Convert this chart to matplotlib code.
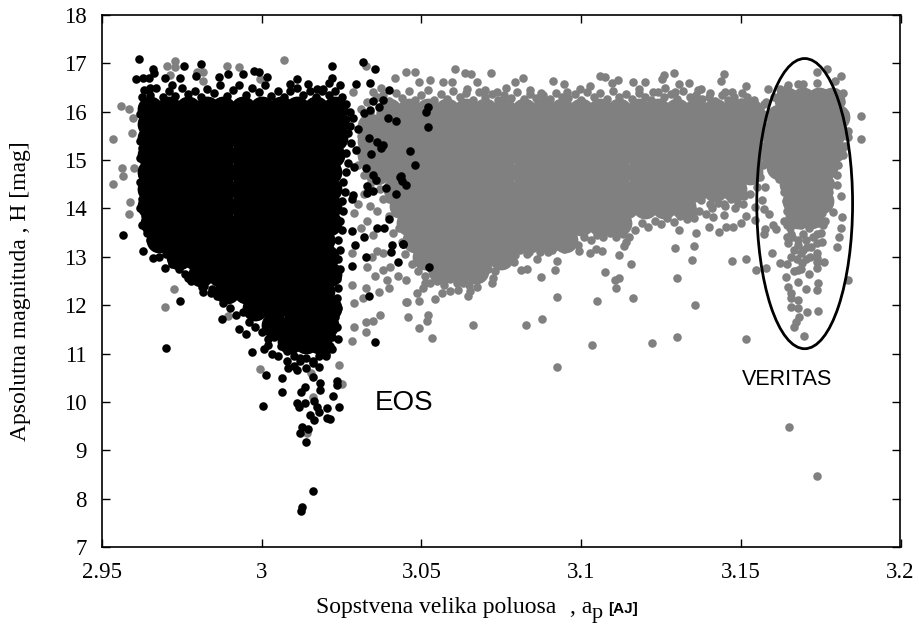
import matplotlib
matplotlib.use("Agg")
import matplotlib.pyplot as plt
from matplotlib.patches import Ellipse

GREY = "#808080"
xticks = [2.95, 3.0, 3.05, 3.1, 3.15, 3.2]
xtick_labels = ["2.95", "3", "3.05", "3.1", "3.15", "3.2"]
yticks = [7, 8, 9, 10, 11, 12, 13, 14, 15, 16, 17, 18]

# The cloud holds thousands of overlapping asteroids. Where single dots cannot be told
# apart, the filled area is read off the picture as rows of wider dots (magnitude, [axis]).
grey_core = [
 (16.02, [3.040,3.046,3.052,3.058,3.064,3.070,3.076,3.082,3.088,3.094,3.100,3.106,3.112,3.118,3.124,3.130,3.136,3.142,3.148,3.153]),
 (15.70, [3.034,3.040,3.046,3.052,3.058,3.064,3.070,3.076,3.082,3.088,3.094,3.100,3.106,3.112,3.118,3.124,3.130,3.136,3.142,3.148,3.153]),
 (15.40, [3.034,3.040,3.046,3.052,3.058,3.064,3.070,3.076,3.082,3.088,3.094,3.100,3.106,3.112,3.118,3.124,3.130,3.136,3.142,3.148,3.153]),
 (15.10, [3.034,3.040,3.046,3.052,3.058,3.064,3.070,3.076,3.082,3.088,3.094,3.100,3.106,3.112,3.118,3.124,3.130,3.136,3.142,3.148,3.153]),
 (14.75, [3.036,3.042,3.046,3.052,3.058,3.064,3.070,3.076,3.082,3.088,3.094,3.100,3.106,3.112,3.118,3.124,3.130,3.136,3.142,3.148,3.153]),
 (14.40, [3.042,3.046,3.052,3.058,3.064,3.070,3.076,3.082,3.088,3.094,3.100,3.106,3.112,3.118,3.124,3.130,3.136,3.142,3.148]),
 (14.05, [3.044,3.048,3.054,3.060,3.066,3.072,3.078,3.084,3.090,3.096,3.102,3.108,3.114,3.120,3.126,3.132]),
 (13.70, [3.046,3.052,3.058,3.064,3.070,3.076,3.082,3.088,3.094,3.100,3.106,3.112]),
 (13.35, [3.048,3.054,3.060,3.066,3.072,3.078,3.084,3.090,3.095]),
 (13.00, [3.051,3.057,3.063,3.069,3.075]),
 (12.70, [3.056,3.062,3.067]),
]
grey_x = [3.0452,3.0481,3.0604,3.0638,3.0656,3.0719,3.0675,3.0819,3.0794,3.0766,3.0494,3.0528,3.0569,3.0597,3.0913,3.0945,3.0998,3.1029,3.106,3.1076,3.1117,3.1098,3.1164,3.1201,3.1258,3.129,3.1254,3.1308,3.1339,3.1367,3.1264,3.1295,3.118,3.1226,3.0873,3.0841,3.0904,3.0957,3.0738,3.07,3.0644,
 3.1374,3.1405,3.1452,3.1474,3.1505,3.154,
 3.0453,3.0494,3.0544,3.0457,3.0522,3.0519,3.0494,3.0532,3.066,3.0826,3.0879,3.0923,3.1049,3.1164,3.0923,3.1035,3.1223,3.1301,3.1358,3.1301,3.1348,3.1354,3.1295,3.1361,3.1308,3.1155,3.1119,3.1135,3.1142,3.1109,3.1106,3.1119,3.1076,3.1064,3.1047,3.1029,3.0994,3.0947,3.0897,3.0926,3.0919,3.0876,3.0863,3.0832,3.0813,3.0794,3.0838,3.0722,3.0725,3.0647,3.0651,3.0616,3.059,3.0565,3.0486,3.0505,3.0512,3.0528,3.0675,3.063,3.0453,
 2.9533,2.956,2.9585,2.9564,2.9567,2.9533,2.9595,2.9598,2.96,2.9589,2.9583,
 3.007,2.9727,2.9705,2.9727,2.989,2.993,2.9815,2.9798,2.9815,2.9714,2.9996,3.0328,3.0416,3.0287,3.0372,
 2.9996,3.0153,3.0243,3.0252,3.0161,3.0142,2.9696,2.9724,2.9896,
 3.0284,3.0325,3.0288,3.0325,3.035,3.0369,3.0288,3.0316,3.0325,3.0366,3.0284,3.0397,3.0455,3.0356,3.0381,3.0393,3.0428,3.0331,3.0284,3.0362,3.0346,3.0381,3.0403,
 3.034,3.036,3.03,3.033,3.04,3.029,3.035,3.031,
 3.1652,3.1739,3.1517,3.1699,3.1665,3.1674,3.1683,3.1708,3.1743,3.1656,3.1678,3.1678,3.1656,3.1656,3.1649,3.1703,3.1739,3.1743,3.1678,3.1643,3.1712,3.1837,3.1549,3.1579,3.1515,3.1471,3.1599,3.1624,3.1645,3.1739,3.1761,
 3.1801,3.1808,3.1814,3.1433,3.1402,3.1455,3.1477,3.15,3.1574,3.1577,3.1611,3.1602,
 3.1678,3.1693,3.1656,3.1687,3.1708,3.1739,3.1739,3.1649,3.168,3.1656,3.1696,3.1739,3.1758,3.1646,3.1687,3.1718,3.1739,
 3.1739,3.1771,3.1814,3.1795,3.1877,3.1877,3.1837,3.1824,3.1821,3.1584,3.1447,3.1437,3.1517,3.1574,3.1739,3.1678,3.1696,3.1649,3.1624,3.1771,
 3.1814,3.1801,3.1789,3.1817,3.1577,3.1567,3.1546,3.1574,3.1589,3.1546,3.1517,3.1483,3.1414,3.1446,3.1405,3.1374,3.1348,3.1355,3.1446,3.1508]
grey_y = [16.82,16.82,16.88,16.8,16.78,16.8,16.62,16.69,16.61,16.5,16.61,16.65,16.61,16.61,16.63,16.57,16.48,16.53,16.73,16.71,16.65,16.59,16.61,16.61,16.75,16.8,16.67,16.57,16.59,16.45,16.49,16.41,16.47,16.41,16.38,16.45,16.27,16.4,16.4,16.44,16.48,
 16.47,16.38,16.41,16.41,16.38,16.24,
 12.07,12.08,12.12,11.75,11.8,11.67,11.53,11.33,11.6,11.58,11.72,12.17,12.09,12.15,10.72,11.18,11.22,11.34,12.0,12.56,12.93,13.22,13.18,13.49,13.55,12.86,13.03,13.22,13.3,12.36,12.52,12.56,12.69,13.12,13.16,13.08,13.12,13.16,13.1,12.91,12.73,12.58,12.95,12.74,12.72,13.03,13.1,12.46,12.56,12.19,12.29,12.31,12.29,12.25,12.25,12.36,12.46,12.46,12.38,12.46,12.52,
 15.43,16.12,16.05,14.83,14.68,14.5,15.56,15.87,14.83,14.13,13.88,
 17.07,17.05,16.94,16.92,16.94,16.92,16.82,16.82,16.63,16.76,16.67,16.94,16.69,16.4,16.5,
 10.68,10.6,10.76,10.37,10.1,9.35,11.96,12.33,11.78,
 11.26,11.44,11.55,11.66,11.68,11.8,12.04,12.15,12.35,12.27,12.41,12.35,12.07,12.6,12.72,12.52,12.6,12.79,13.07,13.13,13.0,13.07,12.79,
 14.05,13.95,14.1,13.75,13.85,13.9,13.45,13.6,
 9.48,8.47,11.3,11.36,11.55,11.66,11.76,11.86,11.88,11.96,11.94,12.1,12.15,12.25,12.38,12.33,12.31,12.46,12.48,12.58,12.64,12.52,12.73,12.76,12.95,12.91,13.07,12.87,12.85,12.76,12.89,
 13.2,13.4,13.6,13.52,13.62,13.62,13.62,13.7,13.47,13.57,13.57,13.65,
 12.73,12.87,13.0,13.07,13.2,13.07,13.28,13.28,13.24,13.48,13.48,13.48,13.65,13.65,13.65,13.0,12.98,
 16.82,16.88,16.73,16.63,15.91,15.43,15.47,15.97,16.38,16.47,16.79,16.63,16.53,16.16,16.6,16.58,16.58,16.55,16.48,16.38,
 14.25,14.48,13.93,13.82,14.45,14.17,14.03,13.99,13.88,13.76,13.85,14.0,13.83,13.86,14.1,14.17,14.0,13.8,14.1,14.1]
grey_edge_top = [(3.040,16.22),(3.042,16.38),(3.044,16.28),(3.046,16.42),(3.048,16.25),(3.050,16.35),(3.052,16.44),(3.054,16.24),(3.056,16.36),(3.058,16.27),(3.060,16.42),(3.062,16.3),(3.064,16.38),(3.066,16.24),(3.068,16.4),(3.070,16.3),(3.072,16.36),(3.074,16.25),(3.076,16.35),(3.078,16.28),(3.080,16.4),(3.082,16.26),(3.084,16.36),(3.086,16.28),(3.088,16.34),(3.090,16.24),(3.092,16.38),(3.094,16.3),(3.096,16.28),(3.098,16.36),(3.100,16.25),(3.102,16.4),(3.104,16.3),(3.106,16.38),(3.108,16.26),(3.110,16.42),(3.112,16.3),(3.114,16.36),(3.116,16.26),(3.118,16.38),(3.120,16.3),(3.122,16.25),(3.124,16.4),(3.126,16.3),(3.128,16.36),(3.130,16.26),(3.132,16.42),(3.134,16.3),(3.136,16.34),(3.138,16.26),(3.140,16.3),(3.142,16.22),(3.144,16.34),(3.146,16.25),(3.148,16.3),(3.150,16.2),(3.152,16.3),(3.154,16.16),(3.156,16.05),(3.157,15.85)]
grey_edge_low = [(3.045,13.05),(3.047,12.85),(3.049,13.1),(3.049,12.7),(3.051,12.6),(3.053,12.75),(3.055,12.5),(3.057,12.42),(3.059,12.55),(3.061,12.45),(3.063,12.6),(3.065,12.42),(3.067,12.55),(3.069,12.6),(3.071,12.75),(3.073,12.7),(3.075,12.85),(3.077,13.0),(3.079,12.9),(3.081,13.15),(3.083,13.05),(3.085,13.2),(3.087,13.1),(3.089,13.22),(3.091,13.15),(3.093,13.25),(3.095,13.2),(3.097,13.3),(3.099,13.25),(3.101,13.4),(3.103,13.35),(3.105,13.45),(3.107,13.4),(3.109,13.5),(3.111,13.42),(3.113,13.48),(3.115,13.4),(3.117,13.55),(3.119,13.7),(3.121,13.62),(3.123,13.75),(3.125,13.68),(3.127,13.8),(3.129,13.72),(3.131,13.85),(3.133,13.78),(3.135,13.9),(3.137,13.95),(3.139,13.88),(3.141,14.0),(3.143,14.12),(3.145,14.05),(3.147,14.2),(3.149,14.12),(3.151,14.25),(3.153,14.3),(3.155,14.45),(3.156,14.65),(3.157,14.9),(3.158,15.1),(3.156,15.3)]
grey_edge_left = [(3.033,16.2),(3.036,16.3),(3.039,16.1),(3.034,16.0),(3.037,15.95),(3.031,16.05),(3.035,16.4),(3.038,16.35),(3.032,15.8),(3.031,15.5),(3.03,15.2),(3.03,14.9),(3.032,14.7),(3.034,14.5),(3.037,14.4),(3.04,14.2),(3.038,14.2),(3.032,14.3),(3.042,13.9),(3.043,13.6),(3.041,13.5),(3.044,13.3)]
veritas_edge = [(3.1605,16.3),(3.1625,16.42),(3.1645,16.5),(3.1795,16.4),(3.1815,16.2),(3.1825,15.95),(3.1815,15.75),(3.1835,15.6),(3.1825,15.3),(3.182,15.1),(3.1805,14.9),(3.18,14.7),(3.178,14.55),(3.1775,14.35),(3.1765,14.1),(3.1755,13.9),(3.1745,13.7),(3.158,16.2),(3.157,15.95),(3.157,15.7),(3.1565,15.5),(3.157,15.2),(3.158,15.0),(3.16,14.8),(3.162,14.6),(3.1635,14.35),(3.164,14.15),(3.1645,13.95),(3.165,13.75)]
veritas_pile = [(3.166,13.4),(3.168,13.35),(3.1705,13.35),(3.1725,13.4),(3.1665,13.15),(3.1695,13.15),(3.172,13.2),(3.1755,13.3),(3.1675,12.95),(3.1705,12.95),(3.1665,12.7),(3.169,12.75),(3.174,12.9),(3.1645,13.4),(3.175,13.5),(3.1655,13.6),(3.1715,13.6),(3.1635,13.75),(3.1765,13.75)]
veritas_core = [
 (16.25, [3.1645,3.1695,3.1745,3.1785]),
 (15.90, [3.1620,3.1665,3.1715,3.1765,3.1800]),
 (15.55, [3.1600,3.1650,3.1700,3.1750,3.1790]),
 (15.20, [3.1600,3.1650,3.1700,3.1750,3.1790]),
 (14.85, [3.1620,3.1665,3.1715,3.1765]),
 (14.50, [3.1660,3.1710,3.1750]),
 (14.15, [3.1670,3.1710,3.1750]),
 (13.85, [3.1680,3.1720]),
]
black_core = [
 (16.05, [2.965,2.971,2.977,2.983,2.988,2.994,3.000,3.006,3.011,3.017,3.023]),
 (15.75, [2.965,2.971,2.977,2.983,2.988,2.994,3.000,3.006,3.011,3.017,3.023]),
 (15.45, [2.965,2.971,2.977,2.983,2.988,2.994,3.000,3.006,3.011,3.017,3.023]),
 (15.10, [2.965,2.971,2.977,2.983,2.988,2.994,3.000,3.006,3.011,3.017,3.022]),
 (14.75, [2.965,2.971,2.977,2.983,2.988,2.994,3.000,3.006,3.011,3.017,3.021]),
 (14.40, [2.965,2.971,2.977,2.983,2.988,2.994,3.000,3.006,3.011,3.017,3.021]),
 (14.05, [2.965,2.971,2.977,2.983,2.988,2.994,3.000,3.006,3.011,3.017,3.021]),
 (13.70, [2.966,2.971,2.977,2.983,2.988,2.994,3.000,3.006,3.011,3.017,3.021]),
 (13.35, [2.968,2.973,2.979,2.984,2.990,2.996,3.002,3.008,3.013,3.019]),
 (13.00, [2.974,2.979,2.985,2.991,2.997,3.003,3.009,3.015,3.020]),
 (12.65, [2.981,2.987,2.993,2.999,3.005,3.011,3.017,3.021]),
 (12.30, [2.989,2.995,3.001,3.007,3.013,3.019]),
 (11.95, [2.998,3.004,3.010,3.016,3.021]),
 (11.60, [3.004,3.010,3.016,3.020]),
 (11.25, [3.009,3.014,3.018]),
]
black_x = [2.9617,2.9661,2.9662,2.9757,2.9811,2.9605,2.9627,2.9648,2.9696,2.9745,2.9793,2.9865,2.9893,2.994,2.9977,2.9993,3.0018,3.0112,3.0146,3.0221,3.0221,3.0246,3.0212,3.0316,3.0356,3.0296,3.034,3.0399,3.0381,3.0349,2.972,2.9651,3.009,3.0174,3.0193,
 3.034,3.0366,3.0319,3.0394,3.0421,3.0287,3.03,3.0337,3.0362,3.0381,3.0372,3.0343,3.0294,3.029,3.0325,3.035,3.0359,3.0434,3.039,3.0419,3.0331,3.035,3.0331,3.0287,3.0284,3.0399,3.0362,3.0384,3.0284,3.0319,
 3.0522,3.0515,3.0522,3.0463,3.0481,3.0437,3.044,3.0453,3.0443,3.0525,
 2.9567,2.9629,2.9661,2.9698,2.9745,2.9701,2.977,2.9814,2.9815,2.9843,2.9877,2.9928,2.9952,2.9971,3.0006,3.0021,3.0033,3.0014,3.0064,3.0065,3.0005,3.0083,3.0111,3.0161,3.0183,3.0181,3.0236,3.0237,3.0224,3.0243,3.0122,3.0135,3.0112,3.0118,3.0137,3.0163,3.0174,3.0178,3.0205,3.015,3.0163,3.0205,3.0215,3.0127,3.0146,3.0119,3.014,3.0161,3.0127,3.0124,
 3.0337,3.0356,3.0328,3.0408,3.0405,3.0441,3.0428,3.0291,3.0284,
 3.005,3.008,3.012,3.016,3.020,3.010,3.014,3.018,3.022,3.024]
black_y = [17.08,16.88,16.8,16.94,16.98,16.67,16.69,16.69,16.69,16.69,16.73,16.71,16.78,16.78,16.84,16.82,16.72,16.67,16.58,16.94,16.69,16.55,16.6,17.02,16.88,16.58,16.6,16.44,16.24,16.22,16.55,16.5,16.57,16.48,16.46,
 16.03,16.09,15.97,15.87,15.8,15.87,15.64,15.45,15.37,15.31,15.25,15.12,15.2,14.85,14.83,14.7,14.58,14.65,14.42,14.3,14.46,14.37,14.31,14.27,14.2,13.78,13.6,13.6,13.53,13.4,
 16.09,15.99,15.68,15.19,14.9,14.68,14.57,14.48,13.26,12.79,
 13.45,13.12,12.97,12.76,12.08,11.11,12.56,12.38,12.27,12.33,11.71,11.5,11.4,11.03,11.1,11.17,11.0,10.56,10.5,10.21,9.92,10.7,10.67,10.52,10.4,10.25,10.43,10.35,10.12,9.9,10.2,10.3,9.97,9.9,9.97,10.02,9.9,9.79,9.87,9.72,9.63,9.67,9.64,9.49,9.44,9.35,9.17,8.16,7.82,7.75,
 12.2,11.24,12.99,13.24,13.1,13.26,12.9,13.24,12.81,
 10.95,10.85,10.9,10.8,10.95,10.75,10.7,10.72,11.1,11.3]
black_edge = [(2.9625,16.3),(2.9635,16.1),(2.962,15.95),(2.9625,15.75),(2.9635,15.6),(2.962,15.4),(2.9625,15.25),(2.962,15.05),(2.9635,14.9),(2.9625,14.7),(2.962,14.55),(2.9635,14.35),(2.9625,14.2),(2.962,14.0),(2.9635,13.85),(2.9625,13.65),(2.964,13.5),(2.965,13.35),(2.9665,13.2),
 (2.963,16.45),(2.965,16.35),(2.967,16.5),(2.969,16.3),(2.971,16.42),(2.973,16.32),(2.975,16.5),(2.977,16.36),(2.979,16.42),(2.981,16.3),(2.983,16.48),(2.985,16.38),(2.987,16.55),(2.989,16.32),(2.991,16.45),(2.993,16.55),(2.995,16.35),(2.997,16.5),(2.999,16.4),(3.001,16.55),(3.003,16.33),(3.005,16.42),(3.007,16.3),(3.009,16.42),(3.011,16.5),(3.013,16.35),(3.015,16.42),(3.017,16.3),(3.019,16.42),(3.021,16.35),(3.023,16.42),(3.025,16.3),
 (3.0265,16.15),(3.0275,16.0),(3.0265,15.85),(3.0275,15.7),(3.027,15.55),(3.028,15.35),(3.0265,15.15),(3.027,14.95),(3.0265,14.75),(3.0255,14.55),(3.026,14.35),(3.025,14.15),(3.0255,13.95),(3.0245,13.75),(3.025,13.55),(3.024,13.35),(3.0245,13.15),(3.024,12.95),(3.0245,12.75),(3.0235,12.55),(3.024,12.35),(3.0235,12.15),(3.024,11.95),(3.023,11.75),(3.0235,11.55),(3.022,11.35),(3.0215,11.15),(3.020,11.0),
 (2.968,13.0),(2.970,13.05),(2.972,12.85),(2.974,12.75),(2.976,12.65),(2.978,12.5),(2.980,12.55),(2.982,12.4),(2.984,12.25),(2.986,12.2),(2.988,12.05),(2.990,11.95),(2.992,11.8),(2.994,11.85),(2.996,11.65),(2.998,11.55),(3.000,11.45),(3.002,11.3),(3.004,11.35),(3.006,11.15),(3.008,11.05),(3.010,10.95),(3.012,10.85),(3.014,10.9),(3.016,10.85),(3.018,10.95)]

SMALL = 38    # marker area of a single asteroid
WIDE = 345    # marker area of a dot in the filled rows

def unpack(rows):
    xs, ys = [], []
    for y, row in rows:
        xs += row
        ys += [y] * len(row)
    return xs, ys

plt.rcParams["font.family"] = ["Liberation Serif", "DejaVu Serif"]
fig = plt.figure(figsize=(9.2, 6.24), dpi=100)
ax = fig.add_axes([102 / 920, 1 - 547 / 624, (900.5 - 102) / 920, (547 - 15) / 624])
ax.set_xlim(2.95, 3.2)
ax.set_ylim(7, 18)

for rows in (grey_core, veritas_core):
    cx, cy = unpack(rows)
    ax.scatter(cx, cy, s=WIDE, c=GREY, linewidths=0, zorder=2)
ax.scatter(grey_x, grey_y, s=SMALL, c=GREY, linewidths=0, zorder=2)
for pts in (grey_edge_top, grey_edge_low, grey_edge_left, veritas_edge, veritas_pile):
    ax.scatter(*zip(*pts), s=SMALL, c=GREY, linewidths=0, zorder=2)
cx, cy = unpack(black_core)
ax.scatter(cx, cy, s=WIDE, c="black", linewidths=0, zorder=3)
ax.scatter(black_x, black_y, s=SMALL, c="black", linewidths=0, zorder=3)
ax.scatter(*zip(*black_edge), s=SMALL, c="black", linewidths=0, zorder=3)

ax.add_patch(Ellipse((3.17, 14.1), 0.03, 6.0, fill=False, ec="black", lw=2.0, zorder=4))

ax.set_xticks(xticks, xtick_labels)
ax.set_yticks(yticks)
ax.tick_params(direction="in", length=6, width=1.0, labelsize=16.5, top=True, right=True)
ax.tick_params(axis="x", pad=11)
ax.tick_params(axis="y", pad=11)
for s in ax.spines.values():
    s.set_linewidth(1.2)

ax.text(3.0355, 9.98, "EOS", family="Liberation Sans", fontsize=20, va="center", ha="left")
ax.text(3.1505, 10.46, "VERITAS", family="Liberation Sans", fontsize=15.5, va="center", ha="left")

fig.text(21 / 920, 1 - 291 / 624, "Apsolutna magnituda , H [mag]", rotation=90, fontsize=17, va="center", ha="center")
fig.text(316 / 920, 1 - 613 / 624, "Sopstvena velika poluosa", fontsize=17, va="baseline", ha="left")
fig.text(570 / 920, 1 - 613 / 624, ", a", fontsize=17, va="baseline", ha="left")
fig.text(592 / 920, 1 - 618 / 624, "p", fontsize=16, va="baseline", ha="left")
fig.text(608 / 920, 1 - 613 / 624, "[AJ]", fontsize=11, weight="bold", family="Liberation Sans", va="baseline", ha="left")

fig.savefig("out.png", dpi=100)
